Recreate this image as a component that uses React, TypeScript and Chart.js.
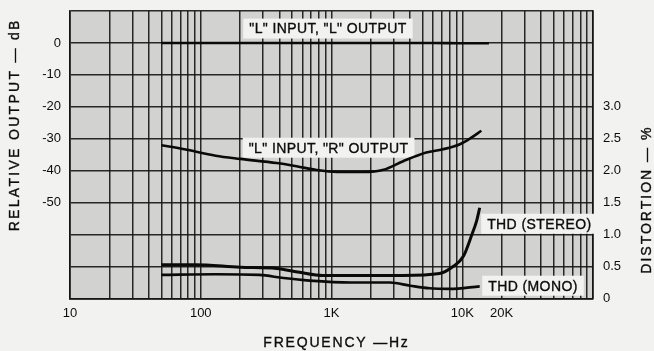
import React, { useEffect, useRef } from "react";
import { Chart, registerables } from "chart.js";

Chart.register(...registerables);

// ---------- tick labels ----------
const X_TICK_VALUES = [10, 100, 1000, 10000, 20000];
const X_TICK_LABELS = ["10", "100", "1K", "10K", "20K"];
const DB_TICK_VALUES = [0, -10, -20, -30, -40, -50];
const DB_TICK_LABELS = ["0", "-10", "-20", "-30", "-40", "-50"];
const THD_TICK_VALUES = [0, 0.5, 1, 1.5, 2, 2.5, 3];
const THD_TICK_LABELS = ["0", "0.5", "1.0", "1.5", "2.0", "2.5", "3.0"];

// ---------- series ----------
// "L" input, "L" output (dB)
const LL_FREQ = [50, 100, 300, 1000, 3000, 6000, 10000, 13000, 16000];
const LL_DB = [0, 0, 0, 0, 0, 0, -0.1, -0.1, -0.1];

// "L" input, "R" output (dB)
const LR_FREQ = [50, 75, 130, 200, 380, 540, 770, 1100, 1750, 2500, 3500, 5300, 7100, 9600, 11500, 14000];
const LR_DB = [-32.0, -33.3, -35.3, -36.3, -37.6, -38.6, -39.8, -40.4, -40.4, -39.7, -37.1, -34.3, -33.3, -31.7, -29.9, -27.5];

// THD (stereo), %
const STEREO_FREQ = [50, 90, 200, 380, 570, 860, 1850, 3500, 6700, 8500, 10200, 11800, 12900, 13600];
const STEREO_THD = [0.53, 0.53, 0.49, 0.47, 0.41, 0.36, 0.36, 0.36, 0.39, 0.5, 0.66, 0.99, 1.22, 1.42];

// THD (mono), %
const MONO_FREQ = [50, 130, 280, 430, 680, 1400, 2800, 4000, 5600, 8000, 13600];
const MONO_THD = [0.37, 0.38, 0.37, 0.32, 0.28, 0.25, 0.25, 0.2, 0.16, 0.15, 0.19];

// ---------- in-plot labels (anchored in data units) ----------
const NOTE_TEXTS = ['"L" INPUT, "L" OUTPUT', '"L" INPUT, "R" OUTPUT', "THD (STEREO)", "THD (MONO)"];
const NOTE_FREQ = [940, 950, 15500, 15800];
const NOTE_VALUE = [4.5, -32.8, 1.17, 0.2];
const NOTE_AXIS = ["y", "y", "y2", "y2"];
const NOTE_ALIGN = ["center", "center", "left", "left"];

const FONT = "'Liberation Sans', Arial, Helvetica, sans-serif";
const INK = "#0c0c0c";
const GRID = "rgba(20,20,20,0.9)";
const PAPER = "#f2f2f0";
const PLOT_BG = "#d2d2d0";

function xGridValues(): number[] {
  const out: number[] = [];
  for (let e = 1; e <= 4; e++) {
    const p = Math.pow(10, e);
    for (let m = 1; m <= 9; m++) out.push(m * p);
  }
  out.push(100000);
  return out;
}

function lookup(values: number[], labels: string[], v: number): string {
  for (let i = 0; i < values.length; i++) {
    if (Math.abs(values[i] - v) < 1e-6 * Math.max(1, Math.abs(v))) return labels[i];
  }
  return "";
}

function pts(xs: number[], ys: number[]) {
  return xs.map((x, i) => ({ x, y: ys[i] }));
}

function noPad(s: any) {
  s.paddingTop = 0;
  s.paddingBottom = 0;
  s.paddingLeft = 0;
  s.paddingRight = 0;
}

const bgPlugin = {
  id: "plotBg",
  beforeDraw(chart: any) {
    const { ctx, chartArea: a } = chart;
    ctx.save();
    ctx.fillStyle = PLOT_BG;
    ctx.fillRect(a.left, a.top, a.right - a.left, a.bottom - a.top);
    ctx.restore();
  },
};

function inkText(ctx: any, text: string, x: number, y: number) {
  ctx.fillText(text, x, y);
  ctx.lineWidth = 0.35;
  ctx.strokeStyle = INK;
  ctx.strokeText(text, x, y);
}

const notesPlugin = {
  id: "notes",
  beforeDatasetsDraw(chart: any) {
    const { ctx } = chart;
    ctx.save();
    ctx.font = `14px ${FONT}`;
    (ctx as any).letterSpacing = "0.4px";
    ctx.textBaseline = "middle";
    for (let i = 0; i < NOTE_TEXTS.length; i++) {
      const x = chart.scales.x.getPixelForValue(NOTE_FREQ[i]);
      const y = chart.scales[NOTE_AXIS[i]].getPixelForValue(NOTE_VALUE[i]);
      const w = ctx.measureText(NOTE_TEXTS[i]).width;
      const left = NOTE_ALIGN[i] === "center" ? x - w / 2 : x;
      ctx.fillStyle = PAPER;
      ctx.fillRect(left - 6, y - 10, w + 12, 20);
      ctx.fillStyle = INK;
      ctx.textAlign = "left";
      inkText(ctx, NOTE_TEXTS[i], left, y + 1);
    }
    ctx.restore();
  },
};

const titlesPlugin = {
  id: "titles",
  afterDraw(chart: any) {
    const { ctx, chartArea: a } = chart;
    ctx.save();
    ctx.fillStyle = INK;
    ctx.font = `14px ${FONT}`;
    ctx.textAlign = "center";
    ctx.textBaseline = "middle";
    (ctx as any).letterSpacing = "1.8px";
    inkText(ctx, "FREQUENCY —Hz", (a.left + a.right) / 2 + 5, 343);

    (ctx as any).letterSpacing = "2.3px";
    ctx.save();
    ctx.translate(15, chart.scales.y.getPixelForValue(-25) + 2);
    ctx.rotate(-Math.PI / 2);
    inkText(ctx, "RELATIVE OUTPUT — dB", 0, 0);
    ctx.restore();

    (ctx as any).letterSpacing = "2px";
    ctx.save();
    ctx.translate(647, chart.scales.y2.getPixelForValue(1.5) - 3);
    ctx.rotate(-Math.PI / 2);
    inkText(ctx, "DISTORTION — %", 0, 0);
    ctx.restore();
    ctx.restore();
  },
};

export default function App() {
  const ref = useRef<HTMLCanvasElement>(null);

  useEffect(() => {
    if (!ref.current) return;
    const lineStyle = {
      borderColor: "#0a0a0a",
      borderWidth: 2.6,
      pointRadius: 0,
      fill: false,
      cubicInterpolationMode: "monotone" as const,
    };
    const chart = new Chart(ref.current, {
      type: "line",
      data: {
        datasets: [
          { label: '"L" INPUT, "L" OUTPUT', data: pts(LL_FREQ, LL_DB), yAxisID: "y", ...lineStyle },
          { label: '"L" INPUT, "R" OUTPUT', data: pts(LR_FREQ, LR_DB), yAxisID: "y", ...lineStyle },
          { label: "THD (STEREO)", data: pts(STEREO_FREQ, STEREO_THD), yAxisID: "y2", ...lineStyle, borderWidth: 3 },
          { label: "THD (MONO)", data: pts(MONO_FREQ, MONO_THD), yAxisID: "y2", ...lineStyle },
        ],
      },
      options: {
        animation: false,
        responsive: false,
        devicePixelRatio: 1,
        layout: { padding: { top: 11, left: 0, right: 0, bottom: 0 } },
        plugins: { legend: { display: false }, tooltip: { enabled: false }, title: { display: false } },
        scales: {
          x: {
            type: "logarithmic",
            position: "bottom",
            min: 10,
            max: 100000,
            afterBuildTicks: (s: any) => {
              s.ticks = xGridValues().map((v) => ({ value: v }));
            },
            afterFit: (s: any) => {
              s.height = 52.5;
              noPad(s);
            },
            ticks: {
              autoSkip: false,
              maxRotation: 0,
              minRotation: 0,
              padding: 7,
              color: INK,
              font: { family: FONT, size: 13 },
              callback: (v: any) => lookup(X_TICK_VALUES, X_TICK_LABELS, Number(v)),
            },
            grid: { color: GRID, lineWidth: 1.5, drawTicks: false },
            border: { display: true, color: GRID, width: 1.7 },
          },
          y: {
            type: "linear",
            position: "left",
            min: -80,
            max: 10,
            afterFit: (s: any) => {
              s.width = 70;
              noPad(s);
            },
            ticks: {
              stepSize: 10,
              padding: 9,
              color: INK,
              font: { family: FONT, size: 13 },
              callback: (v: any) => lookup(DB_TICK_VALUES, DB_TICK_LABELS, Number(v)),
            },
            grid: { color: GRID, lineWidth: 1.6, drawTicks: false },
            border: { display: true, color: GRID, width: 1.7 },
          },
          y2: {
            type: "linear",
            position: "right",
            min: 0,
            max: 4.5,
            afterFit: (s: any) => {
              s.width = 61;
              noPad(s);
            },
            ticks: {
              stepSize: 0.5,
              padding: 10,
              color: INK,
              font: { family: FONT, size: 13 },
              callback: (v: any) => lookup(THD_TICK_VALUES, THD_TICK_LABELS, Number(v)),
            },
            grid: { display: false, drawTicks: false },
            border: { display: true, color: GRID, width: 1.7 },
          },
        },
      },
      plugins: [bgPlugin, notesPlugin, titlesPlugin],
    } as any);
    return () => chart.destroy();
  }, []);

  return (
    <div style={{ position: "fixed", left: 0, top: 0, width: 654, height: 351, background: PAPER }}>
      <canvas ref={ref} width={654} height={351} style={{ display: "block", width: 654, height: 351 }} />
    </div>
  );
}
